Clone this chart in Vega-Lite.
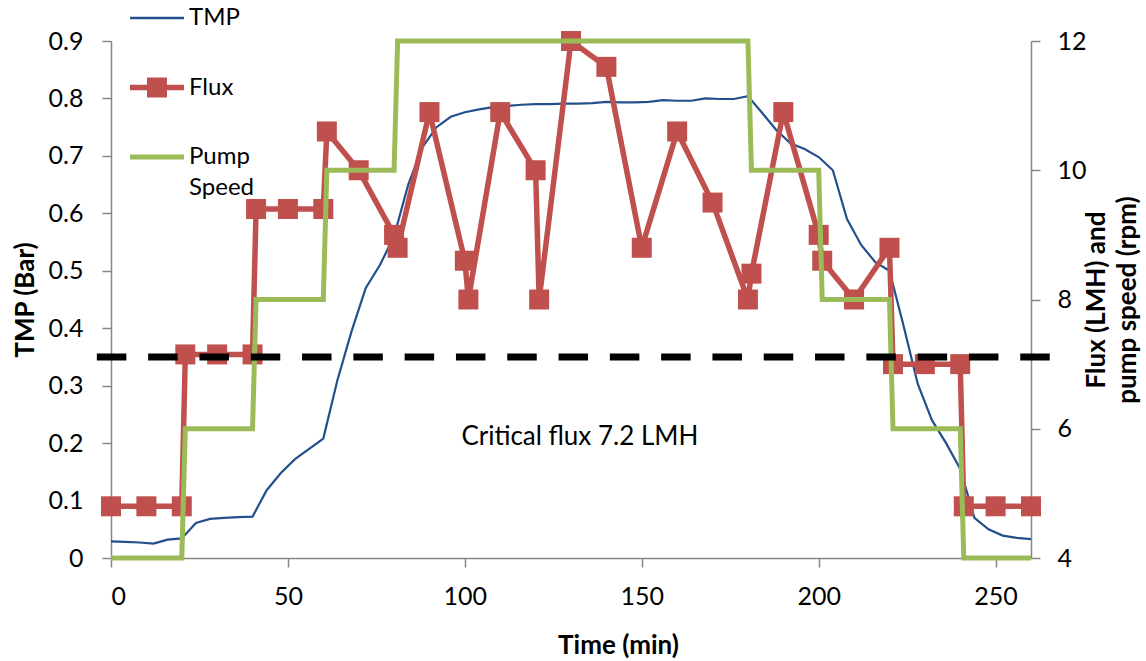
{
  "$schema": "https://vega.github.io/schema/vega-lite/v6.json",
  "width": 920,
  "height": 517,
  "autosize": "none",
  "padding": {"left": 111, "top": 41, "right": 115, "bottom": 103},
  "background": "white",
  "config": {
    "font": "Lato",
    "view": {"stroke": null},
    "axis": {
      "grid": false,
      "domainColor": "#868686",
      "tickColor": "#868686",
      "domainWidth": 1.5,
      "tickWidth": 1.5,
      "tickSize": 9,
      "labelFont": "Lato",
      "labelFontSize": 25,
      "labelColor": "#000000",
      "titleFont": "Lato",
      "titleFontSize": 26,
      "titleFontWeight": "bold",
      "titleColor": "#000000"
    }
  },
  "datasets": {
    "tmp": [
      {"t": 0, "v": 0.029, "series": "TMP"}, {"t": 4, "v": 0.028, "series": "TMP"}, {"t": 8, "v": 0.027, "series": "TMP"},
      {"t": 12, "v": 0.025, "series": "TMP"}, {"t": 16, "v": 0.032, "series": "TMP"}, {"t": 20, "v": 0.034, "series": "TMP"},
      {"t": 24, "v": 0.061, "series": "TMP"}, {"t": 28, "v": 0.068, "series": "TMP"}, {"t": 32, "v": 0.07, "series": "TMP"},
      {"t": 36, "v": 0.071, "series": "TMP"}, {"t": 40, "v": 0.072, "series": "TMP"}, {"t": 44, "v": 0.118, "series": "TMP"},
      {"t": 48, "v": 0.148, "series": "TMP"}, {"t": 52, "v": 0.172, "series": "TMP"}, {"t": 56, "v": 0.19, "series": "TMP"},
      {"t": 60, "v": 0.208, "series": "TMP"}, {"t": 64, "v": 0.31, "series": "TMP"}, {"t": 68, "v": 0.395, "series": "TMP"},
      {"t": 72, "v": 0.47, "series": "TMP"}, {"t": 76, "v": 0.51, "series": "TMP"}, {"t": 80, "v": 0.56, "series": "TMP"},
      {"t": 84, "v": 0.65, "series": "TMP"}, {"t": 88, "v": 0.715, "series": "TMP"}, {"t": 92, "v": 0.75, "series": "TMP"},
      {"t": 96, "v": 0.768, "series": "TMP"}, {"t": 100, "v": 0.776, "series": "TMP"}, {"t": 104, "v": 0.781, "series": "TMP"},
      {"t": 108, "v": 0.785, "series": "TMP"}, {"t": 112, "v": 0.787, "series": "TMP"}, {"t": 116, "v": 0.789, "series": "TMP"},
      {"t": 120, "v": 0.79, "series": "TMP"}, {"t": 124, "v": 0.79, "series": "TMP"}, {"t": 128, "v": 0.791, "series": "TMP"},
      {"t": 132, "v": 0.791, "series": "TMP"}, {"t": 136, "v": 0.792, "series": "TMP"}, {"t": 140, "v": 0.794, "series": "TMP"},
      {"t": 144, "v": 0.793, "series": "TMP"}, {"t": 148, "v": 0.793, "series": "TMP"}, {"t": 152, "v": 0.794, "series": "TMP"},
      {"t": 156, "v": 0.797, "series": "TMP"}, {"t": 160, "v": 0.796, "series": "TMP"}, {"t": 164, "v": 0.796, "series": "TMP"},
      {"t": 168, "v": 0.8, "series": "TMP"}, {"t": 172, "v": 0.799, "series": "TMP"}, {"t": 176, "v": 0.799, "series": "TMP"},
      {"t": 180, "v": 0.804, "series": "TMP"}, {"t": 184, "v": 0.775, "series": "TMP"}, {"t": 188, "v": 0.745, "series": "TMP"},
      {"t": 192, "v": 0.722, "series": "TMP"}, {"t": 196, "v": 0.712, "series": "TMP"}, {"t": 200, "v": 0.698, "series": "TMP"},
      {"t": 204, "v": 0.675, "series": "TMP"}, {"t": 208, "v": 0.59, "series": "TMP"}, {"t": 212, "v": 0.545, "series": "TMP"},
      {"t": 216, "v": 0.515, "series": "TMP"}, {"t": 220, "v": 0.5, "series": "TMP"}, {"t": 224, "v": 0.404, "series": "TMP"},
      {"t": 228, "v": 0.303, "series": "TMP"}, {"t": 232, "v": 0.24, "series": "TMP"}, {"t": 236, "v": 0.2, "series": "TMP"},
      {"t": 240, "v": 0.155, "series": "TMP"}, {"t": 244, "v": 0.07, "series": "TMP"}, {"t": 248, "v": 0.05, "series": "TMP"},
      {"t": 252, "v": 0.039, "series": "TMP"}, {"t": 256, "v": 0.035, "series": "TMP"}, {"t": 260, "v": 0.033, "series": "TMP"}
    ],
    "flux": [
      {"t": 0, "v": 4.8, "series": "Flux"}, {"t": 10, "v": 4.8, "series": "Flux"}, {"t": 20, "v": 4.8, "series": "Flux"},
      {"t": 21, "v": 7.15, "series": "Flux"}, {"t": 30, "v": 7.15, "series": "Flux"}, {"t": 40, "v": 7.15, "series": "Flux"},
      {"t": 41, "v": 9.4, "series": "Flux"}, {"t": 50, "v": 9.4, "series": "Flux"}, {"t": 60, "v": 9.4, "series": "Flux"},
      {"t": 61, "v": 10.6, "series": "Flux"}, {"t": 70, "v": 10.0, "series": "Flux"}, {"t": 80, "v": 9.0, "series": "Flux"},
      {"t": 81, "v": 8.8, "series": "Flux"}, {"t": 90, "v": 10.9, "series": "Flux"}, {"t": 100, "v": 8.6, "series": "Flux"},
      {"t": 101, "v": 8.0, "series": "Flux"}, {"t": 110, "v": 10.9, "series": "Flux"}, {"t": 120, "v": 10.0, "series": "Flux"},
      {"t": 121, "v": 8.0, "series": "Flux"}, {"t": 130, "v": 12.0, "series": "Flux"}, {"t": 140, "v": 11.6, "series": "Flux"},
      {"t": 150, "v": 8.8, "series": "Flux"}, {"t": 160, "v": 10.6, "series": "Flux"}, {"t": 170, "v": 9.5, "series": "Flux"},
      {"t": 180, "v": 8.0, "series": "Flux"}, {"t": 181, "v": 8.4, "series": "Flux"}, {"t": 190, "v": 10.9, "series": "Flux"},
      {"t": 200, "v": 9.0, "series": "Flux"}, {"t": 201, "v": 8.6, "series": "Flux"}, {"t": 210, "v": 8.0, "series": "Flux"},
      {"t": 220, "v": 8.8, "series": "Flux"}, {"t": 221, "v": 7.0, "series": "Flux"}, {"t": 230, "v": 7.0, "series": "Flux"},
      {"t": 240, "v": 7.0, "series": "Flux"}, {"t": 241, "v": 4.8, "series": "Flux"}, {"t": 250, "v": 4.8, "series": "Flux"},
      {"t": 260, "v": 4.8, "series": "Flux"}
    ],
    "pump": [
      {"t": 0, "v": 4, "series": "Pump Speed"}, {"t": 20, "v": 4, "series": "Pump Speed"}, {"t": 21, "v": 6, "series": "Pump Speed"},
      {"t": 40, "v": 6, "series": "Pump Speed"}, {"t": 41, "v": 8, "series": "Pump Speed"}, {"t": 60, "v": 8, "series": "Pump Speed"},
      {"t": 61, "v": 10, "series": "Pump Speed"}, {"t": 80, "v": 10, "series": "Pump Speed"}, {"t": 81, "v": 12, "series": "Pump Speed"},
      {"t": 180, "v": 12, "series": "Pump Speed"}, {"t": 181, "v": 10, "series": "Pump Speed"}, {"t": 200, "v": 10, "series": "Pump Speed"},
      {"t": 201, "v": 8, "series": "Pump Speed"}, {"t": 220, "v": 8, "series": "Pump Speed"}, {"t": 221, "v": 6, "series": "Pump Speed"},
      {"t": 240, "v": 6, "series": "Pump Speed"}, {"t": 241, "v": 4, "series": "Pump Speed"}, {"t": 260, "v": 4, "series": "Pump Speed"}
    ],
    "crit": [
      {"t": -4, "t2": 265.5, "v": 0.35}
    ],
    "note": [
      {"t": 132.5, "v": 0.21, "label": "Critical flux 7.2 LMH"}
    ]
  },
  "layer": [
    {
      "data": {"name": "tmp"},
      "mark": {"type": "line", "strokeWidth": 2.2},
      "encoding": {
        "x": {"field": "t", "type": "quantitative", "scale": {"domain": [0, 260], "nice": false},
              "axis": {"values": [0, 50, 100, 150, 200, 250], "title": "Time (min)", "labelPadding": 17, "titleX": 507, "titleY": 87, "titleBaseline": "middle", "titleAnchor": null}},
        "y": {"field": "v", "type": "quantitative", "scale": {"domain": [0, 0.9], "nice": false, "zero": false},
              "axis": {"orient": "left", "values": [0, 0.1, 0.2, 0.3, 0.4, 0.5, 0.6, 0.7, 0.8, 0.9], "format": ".1~f", "title": "TMP (Bar)", "labelPadding": 19, "titleX": -85.5, "titleY": 258.5, "titleAngle": 270, "titleBaseline": "middle"}},
        "color": {"field": "series", "type": "nominal",
                  "scale": {"domain": ["TMP", "Flux", "Pump Speed"], "range": ["#23508C", "#C0504D", "#9BBB59"]},
                  "legend": {
                    "title": null,
                    "orient": "none",
                    "legendX": 19,
                    "legendY": -50,
                    "direction": "vertical",
                    "padding": 0,
                    "rowPadding": 30.5,
                    "symbolSize": 2916,
                    "labelFont": "Lato",
                    "labelFontSize": 24,
                    "labelColor": "#000000",
                    "labelOffset": 5,
                    "labelLimit": 0,
                    "labelExpr": "datum.label == 'Pump Speed' ? ['Pump', 'Speed'] : datum.label",
                    "encode": {
                      "labels": {"update": {"lineHeight": {"value": 31}}},
                      "symbols": {"update": {
                        "shape": {"signal": "datum.value == 'TMP' ? 'M-1,-0.045H1V0.045H-1Z' : datum.value == 'Flux' ? 'M-1,-0.1H1V0.1H-1Z M-0.37,-0.37H0.37V0.37H-0.37Z' : 'M-1,-0.095H1V0.095H-1Z'"},
                        "fill": {"signal": "scale('color', datum.value)"},
                        "stroke": {"value": "transparent"},
                        "strokeWidth": {"value": 0},
                        "size": {"value": 2916},
                        "opacity": {"value": 1}
                      }}
                    }
                  }}
      }
    },
    {
      "layer": [
        {
          "data": {"name": "flux"},
          "mark": {"type": "line", "strokeWidth": 5.5},
          "encoding": {
            "x": {"field": "t", "type": "quantitative", "scale": {"domain": [0, 260], "nice": false}},
            "y": {"field": "v", "type": "quantitative", "scale": {"domain": [4, 12], "nice": false, "zero": false},
                  "axis": {"orient": "right", "values": [4, 6, 8, 10, 12], "format": "d", "title": ["Flux (LMH) and", "pump speed (rpm)"], "labelPadding": 17, "titleX": 65, "titleY": 258.5, "titleAngle": 270, "titleBaseline": "middle", "titleLineHeight": 31}},
            "color": {"field": "series", "type": "nominal"}
          }
        },
        {
          "data": {"name": "flux"},
          "mark": {"type": "square", "size": 400, "filled": true, "opacity": 1},
          "encoding": {
            "x": {"field": "t", "type": "quantitative"},
            "y": {"field": "v", "type": "quantitative"},
            "color": {"field": "series", "type": "nominal"}
          }
        },
        {
          "data": {"name": "pump"},
          "mark": {"type": "line", "strokeWidth": 5},
          "encoding": {
            "x": {"field": "t", "type": "quantitative"},
            "y": {"field": "v", "type": "quantitative"},
            "color": {"field": "series", "type": "nominal"}
          }
        }
      ]
    },
    {
      "layer": [
        {
          "data": {"name": "crit"},
          "mark": {"type": "rule", "color": "#000000", "strokeWidth": 7, "strokeDash": [29.5, 21.8]},
          "encoding": {
            "x": {"field": "t", "type": "quantitative"},
            "x2": {"field": "t2"},
            "y": {"field": "v", "type": "quantitative", "scale": {"domain": [0, 0.9], "nice": false, "zero": false}, "axis": null}
          }
        },
        {
          "data": {"name": "note"},
          "mark": {"type": "text", "font": "Lato", "fontSize": 26, "color": "#000000", "align": "center", "baseline": "middle"},
          "encoding": {
            "x": {"field": "t", "type": "quantitative"},
            "y": {"field": "v", "type": "quantitative"},
            "text": {"field": "label"}
          }
        }
      ]
    }
  ],
  "resolve": {"scale": {"y": "independent"}}
}
